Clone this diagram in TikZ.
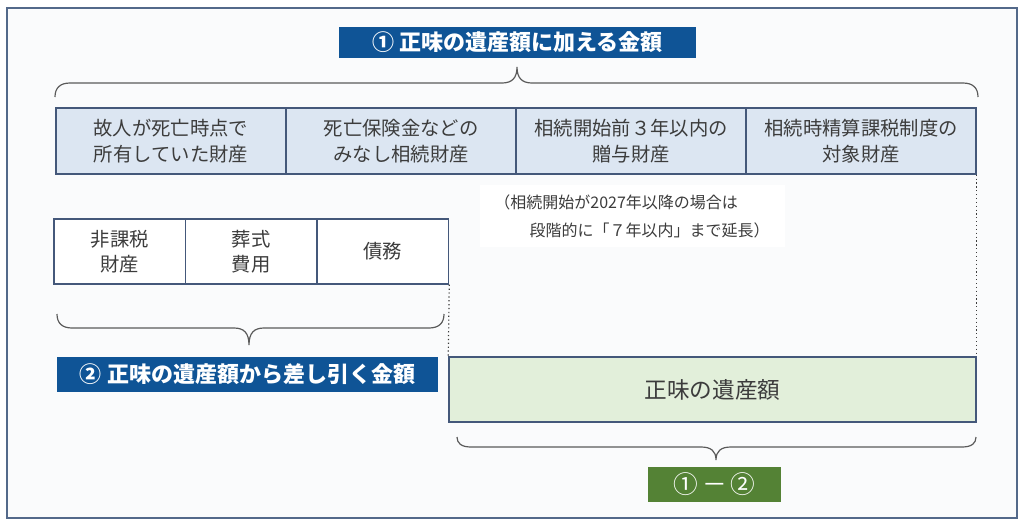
\documentclass[tikz,border=0pt]{standalone}
\usepackage{fontspec}
\setmainfont{Noto Sans CJK JP}
\usepackage{xcolor}
\usetikzlibrary{arrows.meta}
\usetikzlibrary{positioning}
\usetikzlibrary{calc}

\definecolor{frameBlue}{HTML}{53698A}
\definecolor{titleBlue}{HTML}{0F5496}
\definecolor{cellBlue}{HTML}{DCE6F2}
\definecolor{cellLine}{HTML}{44587A}
\definecolor{netGreen}{HTML}{E2EFDA}
\definecolor{titleGreen}{HTML}{548235}
\definecolor{textGray}{HTML}{3C3C3C}
\definecolor{braceGray}{HTML}{5A5A5A}
\definecolor{paper}{HTML}{FAFBFC}

\begin{document}
\begin{tikzpicture}[x=0.75pt,y=0.75pt,yscale=-1,xscale=1,
    addcell/.style={draw=cellLine, line width=1.1pt, fill=cellBlue, text=textGray,
      minimum width=230*0.75pt, minimum height=66*0.75pt, inner sep=0pt, align=center,
      font=\fontsize{14.5}{19}\selectfont},
    subcell/.style={draw=cellLine, line width=1.1pt, fill=white, text=textGray,
      minimum width=131.5*0.75pt, minimum height=65*0.75pt, inner sep=0pt, align=center,
      font=\fontsize{14.5}{19}\selectfont},
    titlebar/.style={fill=titleBlue, text=white, inner sep=0pt,
      font=\fontsize{16.5}{20}\selectfont\bfseries},
    bracepath/.style={draw=braceGray, line width=0.9pt},
    guide/.style={draw=textGray, line width=0.9pt, dotted}]
  %uncomment if require: \path (0,526); %set diagram left start at 0, and has height of 526
  \useasboundingbox (0,0) rectangle (1026,526);

  %Shape: Rectangle [id:frame]
  \draw[draw=frameBlue, line width=1.2pt, fill=paper] (7,8) rectangle (1017,518);

  %Title ①
  \node[titlebar, minimum width=357*0.75pt, minimum height=31*0.75pt] (plusTitle) at (517.5,42.5) {① 正味の遺産額に加える金額};

  %Shape: Brace [id:plusBrace]
  \draw[bracepath] (55,97) .. controls (55,88) and (60,83) .. (70,83) -- (502,83) .. controls (512,83) and (517,78) .. (517,67) .. controls (517,78) and (522,83) .. (532,83) -- (963,83) .. controls (973,83) and (978,88) .. (978,97) ;

  %Top row: amounts added
  \node[addcell] (estate) at (171,141) {故人が死亡時点で\\所有していた財産};
  \node[addcell] (insurance) at (401,141) {死亡保険金などの\\みなし相続財産};
  \node[addcell] (gifts) at (631,141) {相続開始前３年以内の\\贈与財産};
  \node[addcell] (settlement) at (861,141) {相続時精算課税制度の\\対象財産};

  %Note under gifts
  \node[fill=white, text=textGray, align=left, inner sep=0pt, minimum width=305*0.75pt, minimum height=62*0.75pt,
    font=\fontsize{12}{21}\selectfont] (note) at (632,216) {（相続開始が2027年以降の場合は\\\hspace*{2.2em}段階的に「７年以内」まで延長）};

  %Second row: amounts deducted
  \node[subcell] (exempt) at (119.75,251.5) {非課税\\財産};
  \node[subcell] (funeral) at (251.25,251.5) {葬式\\費用};
  \node[subcell] (debt) at (382.75,251.5) {債務};

  %Shape: Brace [id:minusBrace]
  \draw[bracepath] (57,314) .. controls (57,323) and (62,328) .. (72,328) -- (234,328) .. controls (244,328) and (249,333) .. (249,345) .. controls (249,333) and (254,328) .. (264,328) -- (429,328) .. controls (439,328) and (444,323) .. (444,314) ;

  %Title ②
  \node[titlebar, minimum width=381*0.75pt, minimum height=35*0.75pt] (minusTitle) at (247.5,374.5) {② 正味の遺産額から差し引く金額};

  %Net estate
  \node[draw=cellLine, line width=1.1pt, fill=netGreen, text=textGray, inner sep=0pt,
    minimum width=527*0.75pt, minimum height=65*0.75pt, font=\fontsize{17}{20}\selectfont] (net) at (712.5,389.5) {正味の遺産額};

  %Dotted guides
  \draw[guide] (debt.south east) -- (net.north west);
  \draw[guide] (settlement.south east) -- (net.north east);

  %Shape: Brace [id:netBrace]
  \draw[bracepath] (457,437) .. controls (457,443) and (461,447) .. (471,447) -- (701,447) .. controls (711,447) and (716,451) .. (716,460) .. controls (716,451) and (721,447) .. (731,447) -- (962,447) .. controls (972,447) and (976,443) .. (976,437) ;

  %Result ① − ②
  \node[fill=titleGreen, text=white, inner sep=0pt, minimum width=133*0.75pt, minimum height=35*0.75pt,
    font=\fontsize{18.5}{22}\selectfont] (result) at (714.5,484.5) {①\,－\,②};

\end{tikzpicture}
\end{document}
